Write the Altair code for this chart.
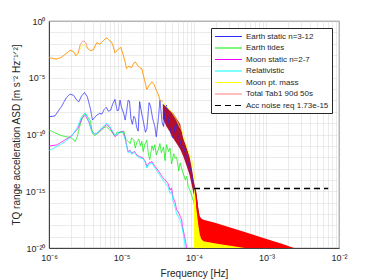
import altair as alt
import pandas as pd

SERIES = ["Earth static n=3-12", "Earth tides", "Moon static n=2-7", "Relativistic",
          "Moon pt. mass", "Total Tab1 90d 50s", "Acc noise req 1.73e-15"]
COLORS = ["#2a2aff", "#00ee00", "#ff00ff", "#00ffff", "#ffff00", "rgba(255,0,0,0.5)", "#000000"]
DASHES = [[1, 0], [1, 0], [1, 0], [1, 0], [1, 0], [1, 0], [6, 4]]

BANDS = ["Total dense < 1e-4", "Moon pt. mass dense", "Total dense > 1e-4"]
BAND_COLORS = ["#b4102c", "#ffff00", "#ff0000"]

# log10 frequency / log10 ASD
earth_static_lf = [-6.00,-5.92,-5.83,-5.76,-5.71,-5.66,-5.62,-5.59,-5.55,-5.51,-5.47,-5.43,-5.40,-5.37,-5.34,-5.30,-5.27,-5.24,-5.21,-5.18,-5.15,-5.12,-5.09,-5.06,-5.04,-5.02,-5.00,-4.97,-4.95,-4.93,-4.91,-4.89,-4.87,-4.85,-4.83,-4.81,-4.79,-4.77,-4.75,-4.72,-4.70,-4.67,-4.65,-4.62,-4.60,-4.57,-4.54,-4.52,-4.49,-4.47,-4.44,-4.42,-4.40,-4.38,-4.35,-4.33,-4.31,-4.29,-4.26,-4.24,-4.22,-4.19,-4.17,-4.15,-4.12,-4.10,-4.08,-4.05,-4.03,-4.01,-3.99,-3.96,-3.94,-3.92,-3.89,-3.87]
earth_static_la = [-8.43,-8.37,-7.55,-6.75,-6.44,-6.55,-6.95,-7.12,-6.60,-6.30,-6.70,-7.70,-8.73,-8.50,-8.29,-8.14,-8.20,-7.80,-7.61,-7.95,-7.85,-7.30,-6.91,-7.90,-7.85,-6.97,-7.60,-8.14,-8.73,-8.00,-7.00,-7.05,-8.60,-9.10,-8.40,-8.60,-9.40,-9.70,-7.10,-8.20,-8.80,-9.80,-9.50,-7.20,-7.50,-8.60,-9.30,-10.20,-8.50,-7.00,-8.90,-9.30,-8.00,-7.40,-8.90,-9.50,-10.10,-10.30,-9.20,-9.10,-10.20,-10.60,-11.20,-11.00,-11.60,-12.00,-12.60,-13.00,-13.50,-14.30,-14.80,-15.90,-17.00,-18.20,-19.30,-20.00]

earth_tides_lf = [-6.00,-5.92,-5.83,-5.76,-5.71,-5.66,-5.64,-5.61,-5.59,-5.55,-5.51,-5.47,-5.43,-5.40,-5.37,-5.34,-5.30,-5.27,-5.24,-5.21,-5.18,-5.14,-5.11,-5.09,-5.06,-5.02,-4.99,-4.97,-4.94,-4.91,-4.88,-4.86,-4.83,-4.81,-4.79,-4.76,-4.74,-4.72,-4.70,-4.68,-4.65,-4.63,-4.61,-4.58,-4.56,-4.54,-4.52,-4.49,-4.47,-4.45,-4.42,-4.40,-4.38,-4.35,-4.33,-4.31,-4.28,-4.26,-4.24,-4.21,-4.19,-4.17,-4.15,-4.12,-4.10,-4.08,-4.05,-4.03,-4.01,-3.99,-3.96,-3.94,-3.92,-3.89,-3.86]
earth_tides_la = [-9.60,-9.85,-10.10,-10.20,-10.25,-10.45,-10.63,-10.20,-9.60,-8.70,-8.14,-8.40,-8.80,-9.90,-10.10,-9.95,-9.75,-9.55,-9.40,-9.30,-9.50,-9.70,-10.00,-10.10,-9.80,-9.85,-9.75,-9.70,-10.40,-10.60,-10.80,-10.30,-10.50,-11.20,-10.70,-10.40,-11.00,-10.60,-11.50,-10.90,-10.50,-11.70,-12.20,-11.00,-11.40,-10.90,-11.80,-11.30,-10.80,-11.60,-11.10,-12.30,-10.90,-11.50,-11.20,-12.60,-11.70,-12.10,-12.00,-13.20,-12.50,-13.00,-13.40,-14.00,-13.70,-14.60,-15.00,-15.40,-15.80,-16.30,-17.00,-17.60,-18.30,-19.20,-20.00]

moon_static_lf = [-6.00,-5.89,-5.78,-5.69,-5.60,-5.55,-5.50,-5.45,-5.41,-5.37,-5.34,-5.30,-5.27,-5.21,-5.17,-5.14,-5.09,-5.05,-5.02,-4.98,-4.95,-4.91,-4.88,-4.86,-4.82,-4.79,-4.75,-4.70,-4.67,-4.65,-4.62,-4.58,-4.55,-4.52,-4.47,-4.43,-4.40,-4.36,-4.33,-4.31,-4.29,-4.26,-4.24,-4.21,-4.19,-4.17,-4.16,-4.14,-4.12,-4.10]
moon_static_la = [-11.01,-10.92,-10.48,-10.13,-9.46,-8.60,-8.29,-8.90,-9.70,-9.95,-9.90,-9.65,-9.50,-9.13,-9.30,-9.60,-10.19,-10.00,-9.75,-9.75,-10.30,-11.51,-11.40,-11.65,-11.50,-11.80,-11.95,-12.09,-12.40,-12.83,-12.50,-12.39,-12.70,-12.95,-13.41,-13.80,-14.00,-14.30,-14.90,-14.70,-15.50,-16.00,-16.63,-16.90,-17.22,-17.50,-18.10,-18.68,-19.30,-20.00]

relativistic_lf = [-6.00,-5.89,-5.78,-5.69,-5.60,-5.55,-5.50,-5.45,-5.41,-5.37,-5.34,-5.30,-5.27,-5.21,-5.17,-5.14,-5.09,-5.05,-5.02,-4.98,-4.95,-4.91,-4.88,-4.86,-4.82,-4.79,-4.75,-4.70,-4.67,-4.65,-4.62,-4.58,-4.55,-4.52,-4.47,-4.43,-4.40,-4.36,-4.33,-4.31,-4.29,-4.26,-4.24,-4.21,-4.19,-4.17,-4.15,-4.13,-4.12]
relativistic_la = [-11.42,-11.07,-10.63,-10.19,-9.25,-8.40,-8.08,-8.80,-9.75,-9.95,-9.90,-9.60,-9.40,-9.02,-9.20,-9.50,-10.10,-9.95,-9.70,-9.85,-10.40,-11.60,-11.45,-11.75,-11.55,-11.90,-12.05,-12.15,-12.50,-12.95,-12.60,-12.50,-12.85,-13.10,-13.60,-14.00,-14.25,-14.60,-15.20,-15.00,-15.80,-16.40,-17.00,-17.30,-17.60,-18.00,-18.70,-19.40,-20.00]

moon_pt_lf = [-6.00,-5.94,-5.89,-5.83,-5.76,-5.71,-5.66,-5.63,-5.60,-5.55,-5.51,-5.47,-5.43,-5.39,-5.34,-5.30,-5.27,-5.23,-5.20,-5.17,-5.14,-5.12,-5.09,-5.06,-5.03,-5.01,-4.98,-4.95,-4.93,-4.90,-4.86,-4.83,-4.81,-4.78,-4.75,-4.72,-4.69,-4.65,-4.62,-4.58,-4.55,-4.52,-4.49,-4.47,-4.43,-4.40,-4.38,-4.33,-4.29,-4.24,-4.20,-4.17,-4.13,-4.10,-4.06,-4.03,-4.00,-3.99]
moon_pt_la = [-3.22,-3.32,-3.34,-3.20,-2.85,-2.58,-2.70,-3.05,-2.90,-2.14,-2.10,-2.40,-2.60,-2.55,-1.90,-2.05,-1.85,-1.60,-1.49,-1.70,-1.84,-2.10,-2.80,-2.60,-2.40,-2.34,-2.90,-3.60,-4.19,-4.00,-4.10,-3.70,-3.60,-3.90,-4.10,-4.20,-5.00,-6.03,-5.70,-5.36,-5.60,-6.10,-6.50,-6.97,-7.10,-7.40,-7.55,-7.85,-8.20,-8.73,-9.30,-9.60,-10.40,-11.07,-11.80,-12.24,-13.50,-14.00]

total_lf = [-6.00,-5.94,-5.89,-5.83,-5.76,-5.71,-5.66,-5.63,-5.60,-5.57,-5.54,-5.52,-5.49,-5.47,-5.43,-5.39,-5.34,-5.30,-5.27,-5.23,-5.20,-5.17,-5.14,-5.12,-5.09,-5.06,-5.03,-5.01,-4.98,-4.95,-4.93,-4.90,-4.86,-4.83,-4.81,-4.78,-4.75,-4.72,-4.69,-4.65,-4.62,-4.58,-4.55,-4.52,-4.49,-4.47,-4.43]
total_la = [-3.22,-3.32,-3.34,-3.20,-2.85,-2.58,-2.70,-3.05,-2.85,-2.10,-1.80,-1.76,-1.95,-2.40,-2.60,-2.55,-1.90,-2.05,-1.85,-1.60,-1.49,-1.70,-1.84,-2.10,-2.80,-2.60,-2.40,-2.34,-2.90,-3.60,-4.19,-4.00,-4.10,-3.70,-3.60,-3.90,-4.10,-4.20,-5.00,-6.03,-5.70,-5.36,-5.60,-6.10,-6.50,-6.97,-7.10]

# dense oscillating part of the total, below 1e-4 Hz (envelope)
total_mid_lf = [-4.43,-4.38,-4.33,-4.29,-4.24,-4.19,-4.15,-4.10,-4.06,-4.03,-4.00,-3.97,-3.94]
total_mid_hi = [-7.30,-7.60,-7.90,-8.10,-8.60,-9.10,-10.30,-11.20,-12.00,-13.00,-14.20,-15.00,-16.60]
total_mid_lo = [-8.60,-9.30,-9.80,-10.30,-10.80,-11.30,-11.90,-12.80,-13.60,-14.50,-15.40,-16.40,-18.00]

# dense oscillating part of the total, above 1e-4 Hz (envelope)
total_hf_lf = [-3.97,-3.94,-3.92,-3.90,-3.87,-3.70,-3.50,-3.30,-3.00,-2.80,-2.62]
total_hf_hi = [-15.00,-16.60,-17.20,-17.40,-17.50,-17.80,-18.20,-18.60,-19.20,-19.60,-20.00]
total_hf_lo = [-16.40,-18.00,-18.80,-19.20,-19.40,-19.60,-19.80,-20.00,-20.00,-20.00,-20.00]

moon_pt_hf_lf = [-4.00,-3.96,-3.93,-3.90,-3.70,-3.50,-3.30,-3.05]
moon_pt_hf_hi = [-14.50,-16.60,-17.30,-18.40,-18.90,-19.30,-19.70,-20.00]
moon_pt_hf_lo = [-20.00,-20.00,-20.00,-20.00,-20.00,-20.00,-20.00,-20.00]

acc_noise_f = [1e-4, 7.1e-3]
acc_noise_a = [1.73e-15, 1.73e-15]


def frame(name, lf, la):
    return pd.DataFrame({"f": [10 ** v for v in lf], "a": [10 ** v for v in la], "s": name})


def band(name, lf, hi, lo):
    return pd.DataFrame({"f": [10 ** v for v in lf], "hi": [10 ** v for v in hi],
                         "lo": [10 ** v for v in lo], "k": name})


low_df = pd.concat([
    frame(SERIES[0], earth_static_lf, earth_static_la),
    frame(SERIES[1], earth_tides_lf, earth_tides_la),
    frame(SERIES[2], moon_static_lf, moon_static_la),
    frame(SERIES[3], relativistic_lf, relativistic_la),
    frame(SERIES[4], moon_pt_lf, moon_pt_la),
])
total_df = frame(SERIES[5], total_lf, total_la)
acc_df = pd.DataFrame({"f": acc_noise_f, "a": acc_noise_a, "s": SERIES[6]})
rmid = band(BANDS[0], total_mid_lf, total_mid_hi, total_mid_lo)
hf_df = pd.concat([
    band(BANDS[1], moon_pt_hf_lf, moon_pt_hf_hi, moon_pt_hf_lo),
    band(BANDS[2], total_hf_lf, total_hf_hi, total_hf_lo),
])

FONT = "Liberation Sans"
TXT = "#262626"

x_vals = [k * 10.0 ** e for e in range(-6, -2) for k in range(1, 10)] + [1e-2]
y_vals = [10.0 ** -k for k in range(0, 21)]

x_lab = ("datum.label == '1e-6' ? '10⁻⁶' : datum.label == '1e-5' ? '10⁻⁵' : "
         "datum.label == '1e-4' ? '10⁻⁴' : datum.label == '1e-3' ? '10⁻³' : "
         "datum.label == '1e-2' ? '10⁻²' : ''")
y_lab = ("datum.label == '1e+0' ? '10⁰' : datum.label == '1e-5' ? '10⁻⁵' : "
         "datum.label == '1e-10' ? '10⁻¹⁰' : datum.label == '1e-15' ? '10⁻¹⁵' : "
         "datum.label == '1e-20' ? '10⁻²⁰' : ''")

xs = alt.Scale(type="log", domain=[1e-6, 1e-2], nice=False)
ys = alt.Scale(type="log", domain=[1e-20, 1], nice=False)
xaxis = alt.Axis(values=x_vals, format=".0e", labelExpr=x_lab, title="Frequency [Hz]",
                 labelOverlap=False, labelFlush=False, ticks=False, labelPadding=5,
                 titlePadding=6)
yaxis = alt.Axis(values=y_vals, format=".0e", labelExpr=y_lab,
                 title="TQ range acceleration ASD [m s⁻² Hz⁻¹ᐟ²]",
                 labelOverlap=False, ticks=False, labelPadding=4, titlePadding=4)

legend = alt.Legend(title=None, symbolType="M-1,0H5", symbolSize=81,
                    symbolFillColor="transparent", symbolStrokeWidth=1.2)
color = alt.Color("s:N", scale=alt.Scale(domain=SERIES, range=COLORS), legend=legend)
dash = alt.StrokeDash("s:N", scale=alt.Scale(domain=SERIES, range=DASHES), legend=legend)
band_fill = alt.Fill("k:N", scale=alt.Scale(domain=BANDS, range=BAND_COLORS), legend=None)

base_x = alt.X("f:Q", scale=xs, axis=xaxis)
base_y = alt.Y("a:Q", scale=ys, axis=yaxis)


def band_layer(df):
    return alt.Chart(df).mark_area(clip=True, strokeWidth=0).encode(
        x=alt.X("f:Q", scale=xs), y=alt.Y("hi:Q", scale=ys), y2="lo:Q", fill=band_fill,
        order=alt.Order("k:N"))


lines_low = alt.Chart(low_df).mark_line(strokeWidth=0.8, clip=True).encode(
    x=base_x, y=base_y, color=color, strokeDash=dash)
total_line = alt.Chart(total_df).mark_line(strokeWidth=0.8, clip=True).encode(
    x=base_x, y=base_y, color=color, strokeDash=dash)
acc_line = alt.Chart(acc_df).mark_line(strokeWidth=1.5, clip=True).encode(
    x=base_x, y=base_y, color=color, strokeDash=dash)

chart = alt.layer(band_layer(rmid), lines_low, band_layer(hf_df),
                  total_line, acc_line).properties(
    width=290, height=227,
    autosize=alt.AutoSizeParams(type="none"),
    padding={"left": 41, "top": 13, "right": 20, "bottom": 32},
).configure_view(stroke=TXT, strokeWidth=0.8).configure_axis(
    labelFont=FONT, titleFont=FONT, labelFontSize=9, titleFontSize=10,
    labelColor=TXT, titleColor=TXT, titleFontWeight="normal",
    domainColor=TXT, domainWidth=0.8, gridColor="#dedede", gridWidth=0.6,
).configure_legend(
    orient="top-right", offset=7, fillColor="white", strokeColor=TXT,
    padding=3, labelFont=FONT, labelFontSize=8, labelColor=TXT,
    rowPadding=1.5, labelOffset=21,
)

chart.save("out.html", embed_options={"renderer": "svg", "actions": False})
